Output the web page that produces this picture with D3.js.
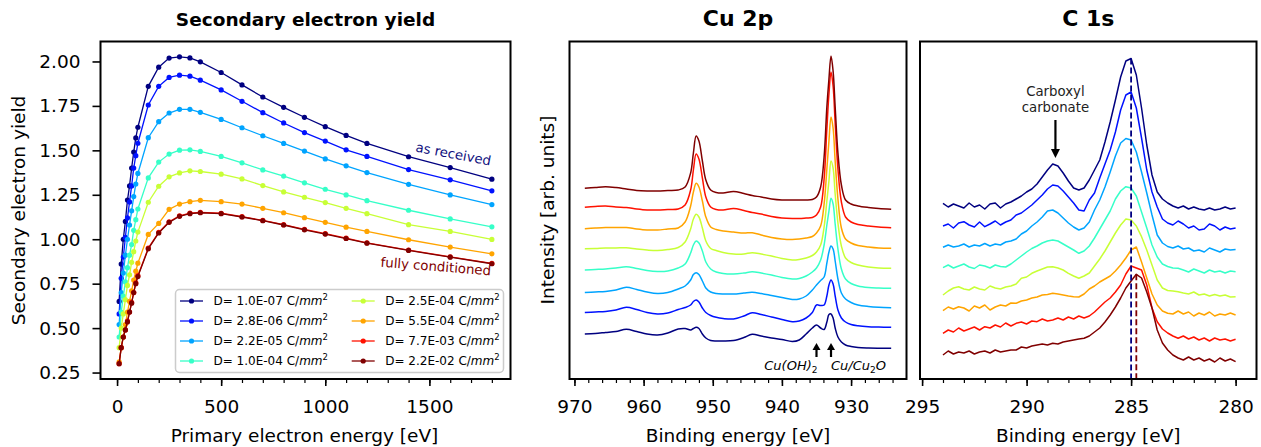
<!DOCTYPE html>
<head>
  <meta charset="utf-8">
  <script src="https://d3js.org/d3.v7.min.js"></script>
  <style>
    body { margin:0; background:#fff; }
    text { font-family:"DejaVu Sans", sans-serif; fill:#000; }
  </style>
</head>
<body>
<script>

/* Data */
/* ==== */

// secondary electron yield vs primary energy, one list per dose
var seyEnergy = [10, 20, 30, 40, 50, 60, 70, 80, 90, 100, 150, 200, 250, 300, 350, 400,
                 500, 600, 700, 800, 900, 1000, 1100, 1200, 1400, 1600, 1800];

var sey_1_0e07 = [0.65, 0.86, 1.00, 1.10, 1.22, 1.30, 1.40, 1.49, 1.57, 1.63, 1.86, 1.968, 2.019, 2.026, 2.02, 1.998, 1.938, 1.868, 1.80, 1.742, 1.686, 1.633, 1.584, 1.539, 1.464, 1.403, 1.338];
var sey_2_8e06 = [0.58, 0.78, 0.90, 1.01, 1.12, 1.21, 1.30, 1.40, 1.47, 1.54, 1.755, 1.86, 1.91, 1.923, 1.917, 1.895, 1.84, 1.776, 1.712, 1.654, 1.60, 1.552, 1.503, 1.466, 1.392, 1.334, 1.272];
var sey_2_2e05 = [0.52, 0.70, 0.81, 0.91, 1.00, 1.08, 1.16, 1.24, 1.31, 1.37, 1.571, 1.661, 1.71, 1.731, 1.731, 1.714, 1.674, 1.627, 1.582, 1.539, 1.496, 1.452, 1.413, 1.375, 1.309, 1.249, 1.195];
var sey_1_0e04 = [0.45, 0.59, 0.68, 0.76, 0.84, 0.91, 0.97, 1.05, 1.11, 1.17, 1.345, 1.434, 1.479, 1.501, 1.503, 1.494, 1.466, 1.43, 1.39, 1.355, 1.317, 1.281, 1.249, 1.217, 1.163, 1.114, 1.07];
var sey_2_5e04 = [0.39, 0.50, 0.58, 0.66, 0.74, 0.80, 0.87, 0.93, 0.99, 1.04, 1.208, 1.298, 1.351, 1.373, 1.385, 1.381, 1.366, 1.339, 1.302, 1.266, 1.236, 1.206, 1.174, 1.144, 1.082, 1.044, 0.999];
var sey_5_5e04 = [0.31, 0.39, 0.45, 0.52, 0.59, 0.65, 0.71, 0.77, 0.82, 0.865, 1.027, 1.089, 1.168, 1.198, 1.211, 1.219, 1.211, 1.198, 1.174, 1.149, 1.121, 1.095, 1.068, 1.044, 0.997, 0.956, 0.918];
var sey_7_7e03 = [0.30, 0.39, 0.45, 0.49, 0.54, 0.59, 0.645, 0.70, 0.755, 0.795, 0.95, 1.038, 1.098, 1.132, 1.147, 1.151, 1.146, 1.127, 1.106, 1.082, 1.055, 1.031, 1.006, 0.98, 0.939, 0.901, 0.864];
var sey_2_2e02 = [0.30, 0.39, 0.45, 0.49, 0.535, 0.59, 0.64, 0.70, 0.75, 0.79, 0.946, 1.035, 1.095, 1.129, 1.144, 1.149, 1.144, 1.125, 1.104, 1.08, 1.053, 1.029, 1.004, 0.978, 0.937, 0.899, 0.862];

var doseLabels = ["1.0E-07", "2.8E-06", "2.2E-05", "1.0E-04", "2.5E-04", "5.5E-04", "7.7E-03", "2.2E-02"];

// Cu 2p spectra (arb. units, already stacked), same dose order
var cuEnergy = [968.5, 967, 965.5, 964, 962.5, 961, 959.5, 958, 956.5, 955, 954, 953.2, 952.8, 952.4, 952, 951.5,
                951, 950.3, 949.5, 948.5, 947, 945.5, 944.3, 943, 941.5, 940, 938.5, 937.5, 936.5, 935.6, 935,
                934.4, 933.9, 933.5, 933.2, 932.9, 932.6, 932.3, 931.9, 931.4, 930.8, 930, 929, 927.5, 926, 924.2];

var cu_1 = [45, 45.5, 46.5, 47.5, 49.7, 47.5, 45, 44, 46, 50, 50.5, 49, 50.5, 51.7, 50.5, 45, 41, 38.5, 38, 38, 38.5, 41.5, 44.7, 43, 41, 39.5, 37.5, 39, 45, 51, 54, 51, 49.5, 57, 64.5, 65, 61, 51, 42, 37, 34, 32.5, 31.5, 31, 30.8, 30.7];
var cu_2 = [66.5, 67, 67.5, 69, 71.7, 69.5, 66.5, 65, 66, 69.5, 71.5, 74, 77.5, 79, 77, 71, 66.5, 63.5, 61.7, 60.5, 60, 63, 66.3, 64.5, 62, 59.5, 57.3, 58, 61, 66.5, 74, 73.5, 74, 83, 94, 99, 95, 83, 69, 61, 57, 54.5, 53.2, 52.3, 52, 51.7];
var cu_3 = [86.5, 87, 87.5, 89, 91.7, 89.5, 87, 85.5, 86.5, 90, 93, 99, 104.5, 106.3, 104.5, 98, 91, 87, 85.5, 85, 85, 86, 86.7, 85.5, 83.5, 81.5, 79.5, 80, 83, 89, 94, 98.5, 102, 116, 127, 133, 130, 118, 100, 86, 80, 76.5, 74, 72.5, 71.7, 71.3];
var cu_4 = [109, 109.5, 110, 111, 112.3, 110.5, 108.5, 107.5, 108, 111, 115, 126, 134, 138, 136, 128, 117, 110, 107, 105.5, 105, 106, 107.3, 106, 104, 101.5, 100, 100.5, 103, 107, 111, 119, 134, 154, 168, 180.7, 175, 155, 130, 110, 100, 95.5, 93, 91.5, 91, 90.7];
var cu_5 = [130.3, 130.5, 131, 131, 131.3, 130, 129, 128.5, 129.5, 131.5, 137, 150, 160, 164.7, 162, 151, 138, 130.5, 128.5, 126.5, 125, 125, 126.3, 125, 123, 120.5, 119, 119.5, 121, 123.5, 127, 134, 152, 178, 198, 218, 211, 185, 156, 133, 121, 116.5, 114, 112, 111, 110.7];
var cu_6 = [150.3, 151, 151.5, 151.5, 151.5, 150, 149, 149, 150, 151, 157, 173, 187, 195.7, 192, 178, 162, 152, 149.5, 148, 147, 146, 146.3, 144, 141.5, 140, 139.5, 140, 141, 142.5, 146, 153, 175, 210, 238, 262, 251, 218, 180, 151, 140, 136, 133.5, 132, 131, 130.7];
var cu_7 = [171.7, 172.5, 173, 172, 171.5, 170, 169, 169, 169.5, 170, 174, 189, 209, 225, 220, 201, 182, 172, 169.5, 169, 170.5, 168.5, 166.5, 165, 162.5, 161, 160.5, 160.5, 161, 161.5, 164, 172, 200, 250, 285, 307, 293, 256, 210, 177, 162, 157, 154.5, 153, 152, 151.3];
var cu_8 = [190.7, 191.5, 192.3, 191.5, 190, 188.5, 188, 188, 188.5, 189, 192, 206, 226, 243, 238, 218, 199, 189, 186.5, 186, 187.5, 185.5, 183.5, 182, 180, 179, 179, 179, 179, 179.5, 182, 192, 222, 272, 300, 323, 308, 272, 226, 194, 179, 175, 173, 171.5, 170.5, 169.7];

// C 1s spectra (arb. units, already stacked)
var cEnergy = [294, 293.75, 293.5, 293.25, 293, 292.75, 292.5, 292.25, 292, 291.75, 291.5, 291.25, 291, 290.75,
               290.5, 290.25, 290, 289.75, 289.5, 289.25, 289, 288.75, 288.5, 288.25, 288, 287.75, 287.5, 287.25,
               287, 286.75, 286.5, 286.25, 286, 285.75, 285.5, 285.25, 285, 284.75, 284.5, 284.25, 284, 283.75,
               283.5, 283.25, 283, 282.75, 282.5, 282.25, 282, 281.75, 281.5, 281.25, 281, 280.75, 280.5, 280.25, 280];

var c_1 = [175.7, 172, 175, 173, 171, 176, 172, 174, 170, 175, 176, 171, 175, 177, 180, 183, 187, 190, 195, 202, 209, 215, 213, 206, 198, 191, 189, 191, 199, 209, 219, 237, 257, 279, 302, 318, 320.5, 304, 271, 234, 204, 187, 180, 176, 173, 171, 173, 170, 172, 170, 169, 171, 169, 170, 172, 170, 171];
var c_2 = [153, 155, 151, 156, 157.3, 154, 152, 157, 152.3, 155, 158, 154, 157, 159, 164, 166, 170, 174, 179, 184, 190, 194, 193, 188, 182, 176, 169, 168, 179, 186, 201, 215, 229, 247, 269, 284, 287, 271, 241, 209, 187, 172, 160, 156, 154, 158, 155, 151, 153, 149, 150, 155, 153, 149, 152, 150, 151];
var c_3 = [131.7, 134, 132, 133, 135, 132, 134, 133, 135.5, 133, 135, 134, 137, 138, 140, 145, 148, 153, 157, 162, 168, 169, 166, 161, 156, 152, 149, 151, 157, 169, 179, 192, 207, 223, 236, 240.5, 239, 227, 207, 186, 164, 144, 136, 132.5, 131, 133, 130, 131, 128, 129, 127, 131, 129, 127, 130, 129, 129.5];
var c_4 = [111.3, 114, 111, 113, 115, 112, 110.5, 114, 113, 111, 114, 112.5, 112, 115, 119, 123, 127, 130.5, 133, 136, 138, 139, 138, 135, 132, 129, 125.7, 128, 133, 141, 150, 159, 168, 180, 188, 192.3, 191, 183, 167, 151, 134, 122, 115, 112.5, 111, 110.7, 109, 107, 110, 108, 106, 109, 107, 108, 106, 108, 107.3];
var c_5 = [84, 88, 91, 92.3, 90, 89, 92, 90, 89, 93, 91, 90, 92, 93, 95, 100.7, 102, 105.7, 108, 110, 112, 112.3, 111, 109, 105.7, 103, 100.7, 103, 106, 113, 120, 128, 137, 146, 154, 160, 159, 153, 142.3, 129, 114, 99, 91, 88.5, 88, 87.3, 86, 85, 87, 84, 85, 83, 84.5, 83, 84, 82, 82.3];
var c_6 = [68.3, 72, 70, 72.3, 71, 68, 73, 71, 74, 69, 72, 74, 73, 76, 75.7, 78, 79, 81, 82, 84, 84.5, 85.7, 85, 84, 83, 82.3, 82, 85, 90, 93, 97, 100, 103, 108, 114, 121, 129, 132, 117, 101, 85, 74, 68, 65.7, 65, 68, 65, 67, 63, 66, 64, 67, 63, 65, 64, 66, 64];
var c_7 = [45.7, 49, 47, 51, 48, 50, 52, 49, 52.3, 51, 54, 52, 56, 53, 55.7, 57, 55, 58, 57.3, 60, 58, 59, 61, 59, 62, 60, 63, 61, 63, 67, 72, 77, 81, 87, 94, 105, 113, 111, 109, 94, 71, 57.3, 50, 46, 43, 40.7, 43, 40, 42, 39, 41, 38, 41, 39, 40, 38, 39.7];
var c_8 = [24, 28, 25, 27, 26, 28, 25, 27, 28, 26, 29, 27, 28, 29, 29, 32, 31, 33, 34, 35, 34, 35.7, 35, 37, 38, 39, 40, 40.7, 43, 47, 51, 57, 64, 72, 81, 91, 98, 104.7, 101, 87, 71, 49, 36, 29, 24, 21, 19, 22, 19, 21, 18, 20, 17, 21, 18, 20, 17.3];


/* Set up */
/* ====== */

var width = 1261,
    height = 447,
    frameTop = 41.5,
    frameBottom = 379;

// jet colormap, 8 steps
var colors = ["#000080", "#0012ff", "#00a4ff", "#36ffc8", "#c8ff36", "#ffa400", "#ff1200", "#800000"];

var seySeries = [sey_1_0e07, sey_2_8e06, sey_2_2e05, sey_1_0e04, sey_2_5e04, sey_5_5e04, sey_7_7e03, sey_2_2e02];
var cuSeries = [cu_1, cu_2, cu_3, cu_4, cu_5, cu_6, cu_7, cu_8];
var cSeries = [c_1, c_2, c_3, c_4, c_5, c_6, c_7, c_8];

var svg = d3.select('body')
  .append('svg')
    .attr('width', width)
    .attr('height', height);

svg.append('rect').attr('width', width).attr('height', height).attr('fill', '#fff');

// matplotlib style 5% padding
function padded(lo, hi) {
  var m = (hi - lo) * 0.05;
  return [lo - m, hi + m];
}

function styleAxis(g, fontSize) {
  g.select('.domain').remove();
  g.selectAll('.tick line').attr('stroke', '#000').attr('stroke-width', 1.6);
  g.selectAll('.tick text')
    .attr('font-size', fontSize)
    .attr('font-family', '"DejaVu Sans", sans-serif')
    .attr('fill', '#000');
}

function bottomAxis(x, majors, minors) {
  svg.append('g')
    .attr('transform', 'translate(0,' + frameBottom + ')')
    .call(d3.axisBottom(x).tickValues(minors).tickSize(4).tickFormat(''))
    .call(styleAxis, 18.5)
    .selectAll('.tick line').attr('stroke-width', 1.2);
  svg.append('g')
    .attr('transform', 'translate(0,' + frameBottom + ')')
    .call(d3.axisBottom(x).tickValues(majors).tickSize(7).tickPadding(14).tickFormat(d3.format('d')))
    .call(styleAxis, 18.5);
}

function frame(x0, x1) {
  svg.append('rect')
    .attr('x', x0).attr('y', frameTop)
    .attr('width', x1 - x0).attr('height', frameBottom - frameTop)
    .attr('fill', 'none')
    .attr('stroke', '#000')
    .attr('stroke-width', 2);
}

function title(cx, txt, size) {
  svg.append('text')
    .attr('x', cx).attr('y', 26)
    .attr('text-anchor', 'middle')
    .attr('font-weight', 'bold')
    .attr('font-size', size)
    .text(txt);
}

function xlabel(cx, txt) {
  svg.append('text')
    .attr('x', cx).attr('y', 442)
    .attr('text-anchor', 'middle')
    .attr('font-size', 18.5)
    .text(txt);
}

function ylabel(x, cy, txt) {
  svg.append('text')
    .attr('transform', 'translate(' + x + ',' + cy + ') rotate(-90)')
    .attr('text-anchor', 'middle')
    .attr('font-size', 18.5)
    .text(txt);
}

function upArrow(x, yTail, yTip, half, headLen) {
  svg.append('line')
    .attr('x1', x).attr('x2', x)
    .attr('y1', yTail).attr('y2', yTip + headLen - 1)
    .attr('stroke', '#000')
    .attr('stroke-width', 2.2);
  svg.append('path')
    .attr('d', 'M' + x + ',' + yTip + 'L' + (x - half) + ',' + (yTip + headLen) + 'L' + (x + half) + ',' + (yTip + headLen) + 'Z')
    .attr('fill', '#000');
}


/* Panel 1: secondary electron yield */
/* ================================= */

var p1 = {x0: 100.5, x1: 510.5};

var x1 = d3.scaleLinear()
    .domain(padded(d3.min(seyEnergy), d3.max(seyEnergy)))
    .range([p1.x0, p1.x1]);

var allSey = d3.merge(seySeries);
var y1 = d3.scaleLinear()
    .domain(padded(d3.min(allSey), d3.max(allSey)))
    .range([frameBottom, frameTop]);

var seyLine = d3.line()
    .x(function(d, i) { return x1(seyEnergy[i]); })
    .y(function(d) { return y1(d); });

var seyG = svg.append('g');

seySeries.forEach(function(s, k) {
  var g = seyG.append('g');
  g.append('path')
    .attr('d', seyLine(s))
    .attr('fill', 'none')
    .attr('stroke', colors[k])
    .attr('stroke-width', 1.3);
  g.selectAll('circle')
      .data(s)
      .enter()
    .append('circle')
      .attr('cx', function(d, i) { return x1(seyEnergy[i]); })
      .attr('cy', function(d) { return y1(d); })
      .attr('r', 2.6)
      .attr('fill', colors[k]);
});

// curve labels
svg.append('text')
  .attr('transform', 'translate(' + 452.5 + ',' + 158.5 + ') rotate(10.5)')
  .attr('text-anchor', 'middle')
  .attr('font-size', 13.3)
  .style('fill', '#10107e')
  .text('as received');

svg.append('text')
  .attr('transform', 'translate(' + 435.5 + ',' + 271 + ') rotate(4.5)')
  .attr('text-anchor', 'middle')
  .attr('font-size', 13.3)
  .style('fill', '#800000')
  .text('fully conditioned');

// y axis
svg.append('g')
  .attr('transform', 'translate(' + p1.x0 + ',0)')
  .call(d3.axisLeft(y1).tickValues([0.25, 0.5, 0.75, 1.0, 1.25, 1.5, 1.75, 2.0]).tickSize(8).tickPadding(12).tickFormat(d3.format('.2f')))
  .call(styleAxis, 18.5);

bottomAxis(x1, [0, 500, 1000, 1500], d3.range(0, 1801, 100));

// legend
var legend = svg.append('g');

legend.append('rect')
  .attr('x', 175.5).attr('y', 289.5)
  .attr('width', 328).attr('height', 83)
  .attr('rx', 4)
  .attr('fill', '#fff')
  .attr('fill-opacity', 0.8)
  .attr('stroke', '#ccc')
  .attr('stroke-width', 1.5);

doseLabels.forEach(function(lab, k) {
  var col = Math.floor(k / 4),
      row = k % 4,
      lx = 180 + col * 171.7,
      ly = 301 + row * 20;
  legend.append('line')
    .attr('x1', lx).attr('x2', lx + 23)
    .attr('y1', ly).attr('y2', ly)
    .attr('stroke', colors[k])
    .attr('stroke-width', 1.3);
  legend.append('circle')
    .attr('cx', lx + 11.5).attr('cy', ly)
    .attr('r', 2.6)
    .attr('fill', colors[k]);
  var t = legend.append('text')
    .attr('x', lx + 33.5).attr('y', ly + 4.3)
    .attr('font-size', 12);
  t.append('tspan').text('D= ' + lab + ' C/');
  t.append('tspan').attr('font-style', 'italic').text('mm');
  t.append('tspan').attr('font-size', 8.5).attr('dy', -5).text('2');
});

frame(p1.x0, p1.x1);
title((p1.x0 + p1.x1) / 2, 'Secondary electron yield', 18.5);
xlabel((p1.x0 + p1.x1) / 2 - 1, 'Primary electron energy [eV]');
ylabel(25, 210.5, 'Secondary electron yield');


/* Panel 2: Cu 2p */
/* ============== */

var p2 = {x0: 569.5, x1: 906.5};

var x2 = d3.scaleLinear()
    .domain(padded(d3.min(cuEnergy), d3.max(cuEnergy)).reverse())
    .range([p2.x0, p2.x1]);

var ySpec = d3.scaleLinear()
    .domain([0, 337.5])
    .range([frameBottom, frameTop]);

var cuLine = d3.line()
    .x(function(d, i) { return x2(cuEnergy[i]); })
    .y(function(d) { return ySpec(d); })
    .curve(d3.curveCatmullRom.alpha(0.5));

cuSeries.forEach(function(s, k) {
  svg.append('path')
    .attr('d', cuLine(s))
    .attr('fill', 'none')
    .attr('stroke', colors[k])
    .attr('stroke-width', 1.5)
    .attr('stroke-linejoin', 'round');
});

// component markers
var cuMarks = [935.0, 932.9];
cuMarks.forEach(function(e) {
  upArrow(x2(e), ySpec(22), ySpec(36), 4, 7);
});

svg.append('text')
  .attr('x', x2(cuMarks[0]) + 1).attr('y', ySpec(9))
  .attr('text-anchor', 'end')
  .attr('font-size', 13)
  .attr('font-style', 'italic')
  .call(function(t) {
    t.append('tspan').text('Cu(OH)');
    t.append('tspan').attr('font-size', 9).attr('dy', 2.5).attr('font-style', 'normal').text('2');
  });

svg.append('text')
  .attr('x', x2(cuMarks[1])).attr('y', ySpec(9))
  .attr('font-size', 13)
  .attr('font-style', 'italic')
  .call(function(t) {
    t.append('tspan').text('Cu/Cu');
    t.append('tspan').attr('font-size', 9).attr('dy', 2.5).attr('font-style', 'normal').text('2');
    t.append('tspan').attr('dy', -2.5).text('O');
  });

bottomAxis(x2, [970, 960, 950, 940, 930], d3.range(924, 971, 2));
frame(p2.x0, p2.x1);
title((p2.x0 + p2.x1) / 2, 'Cu 2p', 22);
xlabel((p2.x0 + p2.x1) / 2, 'Binding energy [eV]');
ylabel(554, 210, 'Intensity [arb. units]');


/* Panel 3: C 1s */
/* ============= */

var p3 = {x0: 920, x1: 1256.5};

var x3 = d3.scaleLinear()
    .domain([295.1, 279])
    .range([p3.x0, p3.x1]);

var cLine = d3.line()
    .x(function(d, i) { return x3(cEnergy[i]); })
    .y(function(d) { return ySpec(d); });

cSeries.forEach(function(s, k) {
  svg.append('path')
    .attr('d', cLine(s))
    .attr('fill', 'none')
    .attr('stroke', colors[k])
    .attr('stroke-width', 1.5)
    .attr('stroke-linejoin', 'round');
});

// peak positions of first and last spectrum
[0, cSeries.length - 1].forEach(function(k) {
  var s = cSeries[k],
      i = d3.maxIndex(s);
  svg.append('line')
    .attr('x1', x3(cEnergy[i])).attr('x2', x3(cEnergy[i]))
    .attr('y1', ySpec(s[i])).attr('y2', ySpec(0))
    .attr('stroke', colors[k])
    .attr('stroke-width', 1.8)
    .attr('stroke-dasharray', '6,3');
});

var carboxylPos = 288.62;
svg.append('text')
  .attr('x', x3(carboxylPos)).attr('y', ySpec(283))
  .attr('text-anchor', 'middle')
  .attr('font-size', 13.3)
  .style('fill', '#222')
  .text('Carboxyl');
svg.append('text')
  .attr('x', x3(carboxylPos)).attr('y', ySpec(267))
  .attr('text-anchor', 'middle')
  .attr('font-size', 13.3)
  .style('fill', '#222')
  .text('carbonate');
svg.append('line')
  .attr('x1', x3(carboxylPos)).attr('x2', x3(carboxylPos))
  .attr('y1', ySpec(259)).attr('y2', ySpec(228))
  .attr('stroke', '#000').attr('stroke-width', 2.2);
svg.append('path')
  .attr('d', 'M' + x3(carboxylPos) + ',' + ySpec(221) +
             'L' + (x3(carboxylPos) - 4.5) + ',' + ySpec(230) +
             'L' + (x3(carboxylPos) + 4.5) + ',' + ySpec(230) + 'Z')
  .attr('fill', '#000');

bottomAxis(x3, [295, 290, 285, 280], d3.range(280, 296, 1));
frame(p3.x0, p3.x1);
title((p3.x0 + p3.x1) / 2, 'C 1s', 22);
xlabel((p3.x0 + p3.x1) / 2, 'Binding energy [eV]');

</script>
</body>
